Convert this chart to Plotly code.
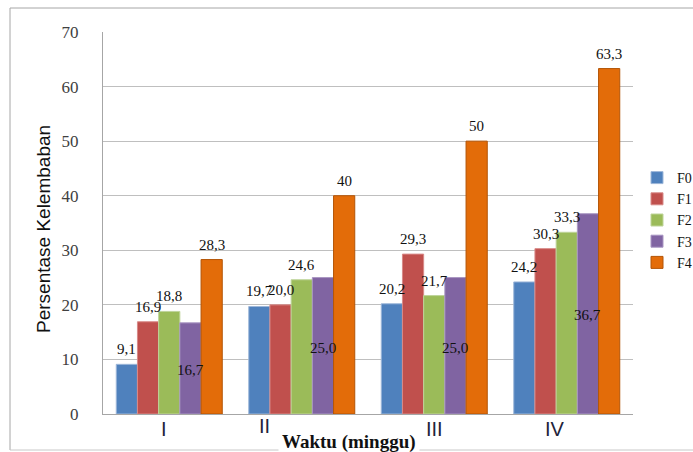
import plotly.graph_objects as go

categories = ["I", "II", "III", "IV"]
series_names = ["F0", "F1", "F2", "F3", "F4"]
F0 = [9.1, 19.7, 20.2, 24.2]
F1 = [16.9, 20.0, 29.3, 30.3]
F2 = [18.8, 24.6, 21.7, 33.3]
F3 = [16.7, 25.0, 25.0, 36.7]
F4 = [28.3, 40.0, 50.0, 63.3]
F0_text = ["9,1", "19,7", "20,2", "24,2"]
F1_text = ["16,9", "20,0", "29,3", "30,3"]
F2_text = ["18,8", "24,6", "21,7", "33,3"]
F3_text = ["16,7", "25,0", "25,0", "36,7"]
F4_text = ["28,3", "40", "50", "63,3"]
y_ticks = [0, 10, 20, 30, 40, 50, 60, 70]

values = [F0, F1, F2, F3, F4]
texts = [F0_text, F1_text, F2_text, F3_text, F4_text]
colors = ["#4F81BD", "#C0504D", "#9BBB59", "#8064A2", "#E36C09"]
edge = ["#9DB7D9", "#D88A88", "#BED49A", "#A996C2", "#B35406"]

SERIF = "Liberation Serif, Times New Roman, DejaVu Serif, serif"
SANS = "Liberation Sans, Arial, sans-serif"

# style: vertical label shift (px) relative to bar top, per series
label_shift = [[15] * 4, [15] * 4, [15] * 4, [-47, -70, -70, -101], [15] * 4]

# plot area in pixels
W, H = 693, 452
L, R, T, B = 103, 633, 32, 414
pw, ph = R - L, B - T
def px(x):
    return (x - L) / pw
def py(y):
    return (B - y) / ph

bargap = 0.2
bw = (1 - bargap) / len(series_names)
xs = list(range(len(categories)))

fig = go.Figure()
for i, name in enumerate(series_names):
    fig.add_trace(go.Bar(
        x=xs, y=values[i], name=name,
        marker=dict(color=colors[i], line=dict(color=edge[i], width=1)),
    ))

annotations = []
for i in range(len(series_names)):
    for k in range(len(categories)):
        annotations.append(dict(
            x=k + (i - 2) * bw, y=values[i][k], xref="x", yref="y",
            text=texts[i][k], showarrow=False, xanchor="center", yanchor="middle",
            yshift=label_shift[i][k],
            font=dict(family=SERIF, size=15, color="#111"),
        ))

# category labels
cat_xshift = [-5, -37, 0, -12]
cat_yshift = [0, 3, 0, 0]
for k, c in enumerate(categories):
    annotations.append(dict(
        x=k, y=py(429), xref="x", yref="paper", text=c, showarrow=False,
        xshift=cat_xshift[k], yshift=cat_yshift[k], xanchor="center", yanchor="middle",
        font=dict(family=SANS, size=20, color="#23233a"),
    ))

annotations.append(dict(
    x=px(349), y=py(442), xref="paper", yref="paper", text="<b>Waktu (minggu)</b>",
    showarrow=False, bgcolor="white", borderpad=3, xanchor="center", yanchor="middle",
    font=dict(family=SERIF, size=19, color="#111"),
))
annotations.append(dict(
    x=px(43), y=py(229), xref="paper", yref="paper", text="Persentase Kelembaban",
    showarrow=False, textangle=-90, xanchor="center", yanchor="middle",
    font=dict(family=SANS, size=19, color="#111"),
))

shapes = [
    dict(type="line", xref="paper", yref="paper", x0=px(10), x1=px(700), y0=py(8), y1=py(8),
         line=dict(color="#A6A6A6", width=1), layer="below"),
    dict(type="line", xref="paper", yref="paper", x0=px(10), x1=px(10), y0=py(8), y1=py(450),
         line=dict(color="#A6A6A6", width=1), layer="below"),
    dict(type="line", xref="paper", yref="paper", x0=px(10), x1=px(700), y0=py(450), y1=py(450),
         line=dict(color="#C8C8C8", width=1), layer="below"),
]

fig.update_layout(
    width=W, height=H,
    margin=dict(l=L, r=W - R, t=T, b=H - B, pad=0, autoexpand=False),
    paper_bgcolor="white", plot_bgcolor="white",
    barmode="group", bargap=bargap, bargroupgap=0,
    showlegend=True,
    legend=dict(xref="container", yref="container", x=637 / W, y=1 - 162 / H,
                xanchor="left", yanchor="top",
                font=dict(family=SERIF, size=14, color="#111"),
                tracegroupgap=0, itemwidth=30, bgcolor="rgba(0,0,0,0)"),
    xaxis=dict(range=[-0.5, 3.5], showticklabels=False, showgrid=False, automargin=False,
               showline=True, linecolor="#A6A6A6", linewidth=1, zeroline=False, ticks=""),
    yaxis=dict(range=[0, 70], tickvals=y_ticks, showgrid=True, gridcolor="#BFBFBF", gridwidth=1,
               showline=True, linecolor="#A6A6A6", linewidth=1, zeroline=False, automargin=False,
               ticks="", ticklabelstandoff=20,
               tickfont=dict(family=SERIF, size=17, color="#404040")),
    annotations=annotations, shapes=shapes,
)

fig.write_html("out.html", config={"displayModeBar": False},
               post_script="document.body.style.margin='0';")
